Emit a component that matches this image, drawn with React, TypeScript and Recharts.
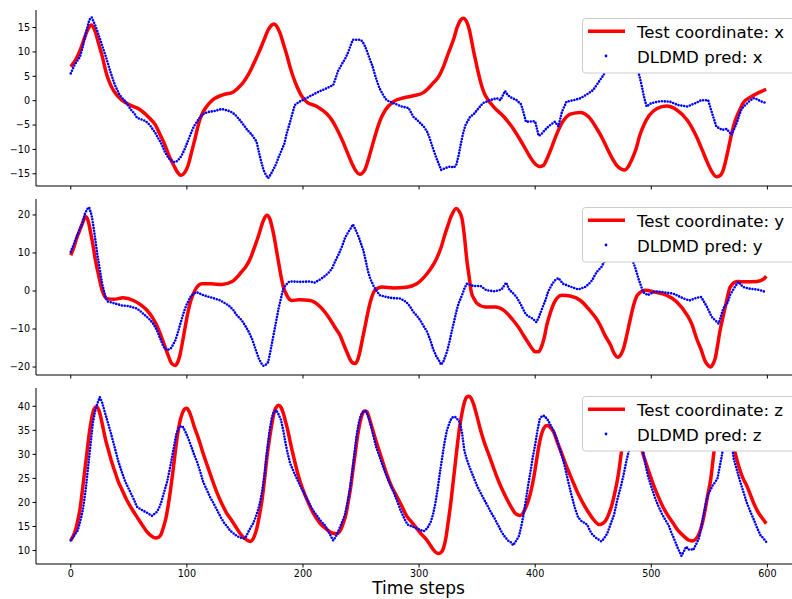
import React from 'react';
import { LineChart, Line, XAxis, YAxis } from 'recharts';

type P = [number, number];

// time-step ticks
const timeTicks = [0, 100, 200, 300, 400, 500, 600];
const xTicks = [-15, -10, -5, 0, 5, 10, 15];
const yTicks = [-20, -10, 0, 10, 20];
const zTicks = [10, 15, 20, 25, 30, 35, 40];

// Panel 1: x coordinate
const xTest: P[] = [[0,7.0],[4,8.3],[8,10.3],[12,13.0],[15,14.8],[18,15.5],[21,14.2],[24,11.7],[27,9.2],[31,5.3],[34,3.4],[37,2.0],[41,0.8],[44,0.1],[51,-0.9],[60,-1.9],[68,-3.6],[73,-5.0],[77,-7.0],[81,-9.0],[85,-11.5],[89,-13.4],[92,-14.7],[95,-15.3],[98,-14.8],[101,-13.3],[104,-10.6],[107,-7.8],[111,-4.0],[114,-2.3],[117,-1.2],[123,0.3],[131,1.2],[140,1.8],[145,2.8],[149,3.9],[153,5.4],[157,7.3],[162,9.9],[166,12.2],[170,14.5],[173,15.5],[175,15.75],[177,15.4],[180,14.0],[183,11.8],[186,9.4],[189,6.8],[192,4.6],[195,2.8],[198,1.3],[203,-0.2],[212,-1.2],[220,-2.6],[225,-4.0],[229,-5.7],[234,-8.2],[238,-10.5],[242,-12.8],[245,-14.2],[249,-15.1],[253,-14.3],[256,-12.3],[259,-9.8],[262,-7.3],[265,-5.0],[268,-3.2],[271,-1.9],[278,-0.2],[287,0.6],[295,1.0],[304,1.7],[312,3.6],[317,5.0],[321,7.0],[325,9.6],[330,12.8],[333,15.2],[336,16.6],[338,16.9],[340,16.6],[343,14.8],[347,10.1],[350,6.8],[353,3.8],[356,1.6],[359,0.3],[364,-1.2],[373,-3.3],[381,-5.7],[386,-7.6],[390,-9.2],[395,-11.3],[399,-12.7],[404,-13.5],[407,-13.3],[410,-12.0],[413,-10.3],[416,-8.4],[419,-6.6],[424,-4.2],[431,-2.7],[439,-2.4],[446,-3.3],[453,-5.7],[458,-7.8],[462,-9.8],[466,-11.7],[470,-13.2],[474,-14.0],[477,-14.2],[480,-13.6],[483,-12.2],[487,-9.8],[490,-7.2],[494,-4.8],[498,-3.1],[505,-1.6],[513,-1.1],[522,-1.9],[531,-4.0],[539,-7.4],[544,-10.2],[548,-12.5],[552,-14.5],[556,-15.6],[559,-15.4],[562,-14.2],[566,-10.3],[569,-7.0],[572,-4.3],[576,-2.0],[579,-0.5],[586,0.8],[593,1.7],[599,2.3]];
const xPred: P[] = [[0,5.6],[3,7.2],[5,8.0],[8,9.0],[10,10.8],[12,12.8],[14,14.8],[16,16.6],[18,17.1],[21,15.5],[23,14.2],[25,12.8],[28,10.6],[30,9.2],[34,6.0],[38,3.2],[42,1.2],[46,0.1],[48,-0.5],[52,-1.9],[55,-2.7],[57,-3.5],[60,-3.8],[63,-4.0],[66,-4.5],[68,-5.0],[71,-6.0],[73,-6.7],[77,-8.4],[79,-9.3],[81,-10.5],[84,-11.7],[86,-12.2],[89,-12.6],[91,-12.5],[94,-11.8],[96,-11.0],[98,-10.0],[100,-8.8],[102,-7.6],[104,-6.4],[106,-5.3],[109,-4.2],[113,-2.9],[116,-2.5],[119,-2.3],[124,-2.1],[130,-1.7],[136,-2.1],[139,-2.4],[142,-3.0],[145,-3.8],[148,-4.7],[152,-6.0],[156,-7.0],[160,-8.4],[162,-10.5],[164,-12.5],[166,-14.2],[168,-15.2],[170,-15.9],[172,-15.2],[175,-13.9],[177,-12.9],[179,-11.6],[181,-10.5],[184,-8.8],[186,-6.7],[189,-4.3],[191,-2.5],[193,-0.9],[197,-0.2],[203,0.5],[209,1.3],[215,2.0],[220,2.5],[226,3.2],[228,4.5],[230,6.0],[234,7.7],[237,8.9],[239,10.0],[241,11.3],[243,12.5],[246,12.5],[249,12.5],[251,12.2],[253,11.4],[255,10.2],[257,8.9],[260,7.0],[262,5.3],[264,3.8],[266,2.5],[269,1.2],[272,0.1],[278,-0.5],[285,-1.2],[291,-1.5],[295,-3.3],[298,-3.9],[301,-4.6],[304,-5.3],[307,-6.4],[309,-7.6],[311,-9.1],[313,-10.5],[315,-11.8],[317,-13.0],[319,-14.2],[321,-14.0],[324,-13.7],[327,-13.5],[330,-13.7],[332,-13.2],[334,-11.3],[336,-8.8],[338,-6.6],[340,-5.0],[344,-3.3],[347,-2.8],[350,-1.9],[355,-0.5],[361,0.1],[367,0.5],[370,0.1],[372,1.0],[374,2.0],[376,1.3],[378,0.8],[384,0.1],[388,-0.8],[390,-2.5],[392,-4.3],[395,-4.3],[398,-4.2],[400,-4.3],[403,-7.2],[405,-7.0],[407,-6.4],[410,-5.6],[413,-5.0],[417,-4.3],[420,-5.3],[423,-2.3],[427,-0.2],[433,0.1],[439,0.5],[444,1.2],[450,2.2],[454,3.6],[459,5.3],[463,7.5],[467,10.0],[471,12.0],[475,13.0],[479,12.5],[483,11.0],[486,8.5],[488,6.5],[490,4.9],[492,2.8],[494,0.5],[496,-1.2],[500,-0.5],[508,-0.1],[516,-0.2],[523,-0.9],[531,-1.2],[538,-0.5],[543,0.1],[549,0.1],[552,-2.3],[556,-5.3],[561,-6.0],[565,-5.8],[569,-7.0],[572,-5.5],[574,-4.3],[576,-2.8],[578,-1.6],[584,-0.2],[588,0.5],[591,0.3],[594,-0.1],[599,-0.5]];

// Panel 2: y coordinate
const yTest: P[] = [[0,9.4],[3,11.8],[5,13.8],[8,16.2],[10,17.8],[12,19.3],[13,19.5],[15,18.4],[17,15.5],[19,12.3],[21,8.5],[24,4.1],[27,0.2],[29,-1.3],[31,-2.0],[37,-2.2],[45,-1.8],[54,-2.5],[60,-3.6],[66,-5.2],[70,-6.8],[74,-9.0],[77,-11.2],[80,-13.7],[83,-16.2],[87,-19.1],[90,-19.6],[92,-18.8],[94,-16.9],[96,-13.8],[98,-10.4],[101,-5.5],[103,-2.9],[107,0.2],[113,1.9],[121,1.9],[130,1.7],[139,2.5],[147,5.0],[151,6.5],[155,8.8],[158,11.3],[162,14.8],[166,18.6],[169,19.9],[171,19.3],[173,17.3],[175,14.5],[177,11.0],[179,7.5],[181,4.0],[183,1.2],[186,-1.1],[190,-2.5],[197,-2.3],[206,-2.5],[215,-4.2],[223,-7.3],[228,-9.8],[232,-11.7],[235,-14.0],[238,-16.2],[242,-18.7],[245,-19.1],[247,-18.2],[249,-16.0],[251,-13.0],[254,-8.5],[256,-5.5],[258,-2.9],[262,0.2],[268,1.05],[278,0.8],[289,1.0],[298,1.9],[307,4.6],[311,6.3],[315,8.5],[319,11.5],[322,14.6],[325,17.4],[328,19.9],[332,21.7],[334,21.2],[337,19.0],[339,14.5],[341,8.5],[343,4.0],[345,-0.3],[348,-2.4],[350,-3.3],[357,-4.2],[366,-4.2],[373,-5.1],[381,-7.7],[386,-9.7],[390,-11.7],[394,-13.6],[397,-15.0],[400,-16.0],[403,-16.0],[405,-15.0],[408,-12.0],[410,-9.0],[413,-5.8],[416,-3.3],[419,-1.8],[423,-1.1],[430,-1.3],[439,-2.5],[447,-5.1],[452,-7.0],[456,-9.0],[460,-11.6],[465,-14.3],[468,-16.4],[471,-17.4],[474,-16.6],[476,-15.2],[479,-11.5],[482,-7.3],[485,-3.5],[488,-1.1],[495,0.2],[503,-0.3],[513,-1.1],[522,-2.9],[531,-6.4],[535,-8.8],[539,-12.5],[543,-15.5],[546,-18.2],[549,-19.6],[551,-20.0],[553,-19.3],[555,-17.8],[557,-14.5],[559,-10.8],[562,-6.5],[564,-3.8],[568,1.05],[574,2.5],[582,2.4],[591,2.5],[597,3.2],[599,3.9]];
const yPred: P[] = [[0,10.3],[3,12.6],[5,14.2],[8,16.5],[10,17.7],[12,20.2],[15,22.0],[16,21.8],[18,19.9],[20,16.0],[21,13.8],[23,9.3],[24,7.6],[26,3.8],[27,2.0],[30,-1.8],[32,-2.8],[35,-3.0],[38,-3.3],[44,-3.8],[50,-4.0],[57,-4.6],[61,-5.6],[64,-6.4],[68,-7.5],[71,-8.6],[74,-10.2],[77,-12.5],[79,-14.0],[81,-15.2],[83,-15.5],[86,-15.2],[88,-14.2],[90,-13.0],[92,-11.2],[94,-9.0],[96,-7.0],[98,-5.0],[100,-3.4],[103,-1.6],[106,-0.6],[109,-0.4],[114,-1.1],[122,-1.8],[129,-2.5],[136,-3.8],[140,-5.0],[143,-6.4],[147,-7.6],[150,-9.0],[153,-10.6],[156,-12.5],[159,-15.2],[162,-17.8],[164,-19.0],[166,-19.7],[168,-19.4],[170,-18.7],[172,-15.8],[175,-11.0],[177,-7.8],[179,-4.6],[181,-2.0],[183,0.6],[185,1.5],[188,2.4],[190,2.5],[198,2.4],[206,2.5],[210,2.2],[214,2.9],[218,3.7],[222,4.8],[225,5.9],[228,8.0],[231,9.8],[234,12.0],[236,13.8],[239,15.5],[241,16.4],[243,17.5],[245,16.3],[248,14.2],[250,12.4],[252,10.7],[254,8.0],[256,5.2],[258,3.2],[261,1.2],[264,-0.2],[266,-1.1],[275,-1.8],[284,-2.0],[289,-2.9],[292,-4.0],[295,-5.5],[298,-6.5],[301,-7.7],[304,-9.3],[307,-10.8],[310,-13.2],[312,-15.2],[315,-17.3],[317,-18.2],[319,-19.4],[321,-18.5],[324,-16.0],[326,-13.6],[328,-10.8],[330,-8.2],[332,-5.5],[334,-3.3],[337,-1.1],[339,0.6],[341,1.9],[347,1.3],[353,1.3],[358,0.2],[365,-0.1],[371,0.4],[375,2.2],[378,0.2],[381,-0.6],[384,-1.6],[388,-3.8],[392,-6.2],[395,-6.8],[398,-7.3],[401,-8.2],[403,-7.0],[406,-4.6],[409,-2.3],[411,-0.3],[414,1.5],[417,2.8],[420,3.4],[424,1.9],[430,1.2],[437,0.4],[443,1.05],[446,1.8],[449,2.8],[453,5.0],[457,6.3],[461,8.5],[466,11.5],[470,13.5],[474,13.0],[478,11.5],[482,9.5],[486,6.3],[489,3.2],[493,-0.3],[497,-1.1],[503,-0.1],[510,-0.3],[519,-0.7],[528,-2.0],[533,-2.5],[539,-1.8],[543,-1.6],[548,-4.2],[552,-6.8],[558,-8.6],[562,-4.6],[566,-2.9],[568,-1.0],[571,0.6],[575,2.4],[579,1.05],[585,0.6],[592,0.35],[599,-0.3]];

// Panel 3: z coordinate
const zTest: P[] = [[0,12.1],[2,13.0],[4,14.2],[6,16.2],[8,18.7],[10,22.5],[12,26.5],[14,30.5],[16,34.5],[18,37.5],[20,39.4],[22,39.9],[24,39.3],[26,37.6],[28,35.3],[30,33.0],[33,30.4],[35,28.6],[38,26.4],[41,24.3],[44,22.7],[48,20.6],[52,18.9],[57,17.0],[61,15.5],[65,14.1],[69,13.1],[73,12.6],[76,12.8],[78,13.5],[80,15.0],[82,16.8],[84,19.5],[86,22.8],[88,26.5],[90,30.5],[92,34.2],[94,36.8],[96,38.5],[98,39.4],[100,39.6],[102,38.9],[104,37.6],[106,36.0],[109,34.0],[112,31.8],[114,30.2],[118,27.4],[122,24.6],[126,22.0],[130,19.8],[134,17.9],[139,16.1],[143,14.6],[146,13.5],[150,12.5],[153,12.0],[155,11.9],[157,12.4],[159,13.6],[161,15.4],[163,18.0],[165,21.0],[167,25.0],[169,29.5],[171,33.0],[173,36.0],[175,38.6],[177,39.8],[179,40.2],[181,39.8],[183,38.6],[185,36.8],[187,34.9],[189,32.6],[192,29.4],[195,26.5],[198,24.0],[202,21.4],[206,19.2],[209,17.7],[213,16.2],[216,15.3],[220,14.5],[223,13.9],[226,13.6],[229,13.5],[231,13.8],[233,14.6],[235,15.9],[237,17.5],[239,20.2],[241,23.0],[243,26.7],[245,30.2],[247,33.8],[249,36.5],[251,38.3],[253,39.0],[255,38.9],[257,37.6],[259,36.0],[262,33.5],[265,31.2],[269,28.2],[272,26.0],[276,23.5],[281,21.2],[285,19.3],[289,17.3],[294,15.8],[298,14.6],[302,13.4],[307,12.1],[311,10.6],[314,9.7],[317,9.4],[319,9.6],[321,10.5],[323,12.5],[325,15.8],[327,19.3],[329,23.5],[331,27.7],[333,32.0],[335,35.8],[337,38.6],[339,40.8],[341,41.9],[343,42.1],[345,41.6],[347,40.4],[350,37.8],[353,35.0],[356,32.6],[360,30.0],[364,27.3],[367,25.3],[371,23.0],[375,21.0],[379,19.2],[383,17.7],[385,17.4],[387,17.3],[389,17.6],[391,18.5],[393,19.6],[396,22.0],[399,25.5],[401,28.5],[403,31.5],[405,33.8],[407,35.2],[409,35.9],[411,36.0],[413,35.6],[416,34.6],[419,32.6],[423,30.1],[427,27.5],[432,24.6],[437,21.8],[442,19.5],[446,17.9],[450,16.5],[453,15.7],[455,15.4],[457,15.5],[460,16.0],[462,16.8],[464,18.0],[466,19.4],[469,22.5],[472,26.4],[474,30.0],[477,35.0],[480,39.5],[482,40.5],[484,40.0],[487,37.0],[490,33.5],[493,30.0],[495,28.5],[498,26.3],[502,23.6],[506,21.2],[510,19.1],[514,17.4],[519,15.6],[523,14.2],[528,13.0],[532,12.2],[535,12.0],[538,12.3],[541,13.4],[544,15.7],[546,18.0],[549,22.0],[551,24.5],[554,30.5],[557,35.0],[560,38.5],[563,39.5],[566,38.0],[569,34.0],[572,30.5],[576,27.0],[579,25.0],[582,23.6],[586,21.2],[589,19.4],[593,17.6],[596,16.6],[599,15.6]];
const zPred: P[] = [[0,12.1],[2,12.8],[4,13.5],[6,14.2],[8,15.9],[10,18.0],[11,19.4],[13,23.0],[15,27.5],[17,32.0],[19,36.5],[21,39.0],[23,40.6],[25,41.9],[27,40.8],[28,39.9],[30,38.2],[32,36.6],[35,34.0],[38,31.3],[41,28.5],[44,26.3],[47,24.3],[50,22.8],[54,20.8],[57,19.1],[60,18.6],[63,18.2],[66,17.8],[70,17.2],[74,18.0],[76,18.8],[78,20.1],[80,21.8],[83,24.3],[85,26.6],[87,29.1],[89,31.8],[91,34.3],[93,35.4],[95,35.9],[97,35.6],[100,34.0],[102,32.8],[104,31.5],[106,30.1],[109,28.3],[112,26.0],[114,24.3],[117,22.7],[120,21.1],[123,19.8],[126,18.4],[129,17.0],[132,15.8],[135,14.9],[137,14.2],[140,13.6],[143,13.0],[146,12.7],[149,12.5],[151,12.9],[153,13.9],[155,14.8],[157,15.6],[159,16.8],[161,18.2],[163,20.0],[165,22.5],[167,26.0],[169,30.5],[171,34.5],[173,37.4],[175,38.8],[177,39.2],[179,38.3],[181,37.2],[183,35.0],[185,32.3],[187,30.0],[189,28.1],[192,26.4],[195,24.8],[198,23.3],[201,21.9],[204,20.4],[207,19.0],[210,17.9],[213,16.9],[216,16.0],[219,15.2],[222,13.9],[224,13.0],[226,12.1],[228,12.8],[230,13.8],[233,15.5],[236,17.3],[238,19.5],[240,22.0],[242,25.5],[244,29.5],[246,33.5],[248,36.5],[250,38.2],[252,38.9],[254,39.0],[256,38.0],[258,36.5],[260,34.5],[263,31.5],[266,29.5],[269,27.4],[272,25.5],[275,23.8],[278,22.2],[281,20.3],[284,18.4],[287,16.8],[290,15.4],[294,15.0],[298,14.6],[301,14.3],[304,14.0],[307,14.6],[310,15.9],[312,17.5],[314,19.8],[316,22.8],[318,26.3],[320,29.5],[322,32.6],[324,35.0],[327,37.1],[329,37.7],[331,37.8],[333,37.3],[335,36.7],[337,34.5],[339,30.8],[341,29.0],[344,27.0],[347,25.2],[350,23.4],[353,22.0],[356,20.6],[359,19.3],[362,17.9],[365,16.7],[368,15.3],[371,13.9],[374,12.8],[377,12.0],[379,11.7],[381,11.1],[383,11.8],[386,13.0],[388,15.0],[390,17.5],[392,20.5],[394,23.6],[396,26.5],[398,29.5],[400,32.0],[402,35.0],[404,37.4],[406,38.0],[408,38.0],[411,37.1],[413,36.2],[416,34.8],[419,32.8],[422,30.5],[425,28.0],[428,24.8],[431,21.8],[434,19.0],[437,16.9],[440,16.1],[443,15.7],[445,15.3],[447,14.2],[449,13.4],[452,12.7],[455,12.2],[457,11.9],[459,12.4],[462,13.5],[465,15.5],[468,17.5],[471,20.8],[474,23.5],[476,25.6],[479,29.1],[481,31.0],[484,34.5],[487,37.0],[489,37.5],[491,35.5],[493,30.5],[495,27.9],[497,25.6],[500,23.3],[503,21.1],[506,19.3],[509,17.7],[512,16.4],[515,15.2],[517,13.9],[519,12.8],[521,11.6],[523,10.4],[525,9.4],[526,8.9],[528,9.8],[530,10.8],[532,10.2],[534,10.3],[536,10.1],[538,11.0],[541,12.5],[543,14.8],[545,17.3],[547,19.8],[549,21.8],[551,22.6],[553,23.6],[555,24.2],[557,25.0],[559,27.5],[561,30.0],[563,33.5],[565,36.0],[567,36.5],[569,33.0],[571,29.1],[574,26.5],[577,24.0],[580,21.7],[582,20.1],[585,18.3],[588,16.6],[591,14.8],[594,13.2],[597,12.4],[599,11.8]];

const FONT = 'DejaVu Sans, sans-serif';
const X_DOMAIN: [number, number] = [-29.95, 628.95];
const PLOT_H = 176;
const MT = 5;
const fmt = (v: number) => String(v).replace('-', '\u2212');
const toRows = (a: P[]) => a.map(([t, v]) => ({ t, v }));

interface PanelProps {
  top: number;
  test: P[];
  pred: P[];
  domain: [number, number];
  ticks: number[];
  showX: boolean;
  name: string;
}

function LegendBox({ name }: { name: string }) {
  // coordinates relative to the panel's plot top (+ MT offset of the wrapper)
  const o = MT;
  return (
    <svg
      width={220}
      height={60}
      style={{ position: 'absolute', left: 580, top: o + 6, zIndex: 50, pointerEvents: 'none', overflow: 'visible' }}
    >
      <rect x={2.5} y={2.5} width={240} height={54.5} rx={3} fill="#ffffff" stroke="#cccccc" strokeWidth={1} />
      <line x1={8} x2={45} y1={15.3} y2={15.3} stroke="#ff0000" strokeWidth={3.5} />
      <circle cx={26} cy={40} r={1.4} fill="#0000ff" />
      <text x={57} y={22} fontFamily={FONT} fontSize={16.6} fill="#000">{`Test coordinate: ${name}`}</text>
      <text x={57} y={46.5} fontFamily={FONT} fontSize={16.6} fill="#000">{`DLDMD pred: ${name}`}</text>
    </svg>
  );
}

function Panel({ top, test, pred, domain, ticks, showX, name }: PanelProps) {
  const xh = showX ? 30 : 8;
  const h = PLOT_H + MT + xh;
  return (
    <div style={{ position: 'absolute', left: 0, top: top - MT, width: 810, height: h }}>
      <div style={{ position: 'absolute', left: 0, top: 0, zIndex: 1 }}>
        <LineChart width={810} height={h} margin={{ top: MT, right: 9, bottom: 0, left: 0 }}>
          <XAxis
            xAxisId="b"
            type="number"
            dataKey="t"
            domain={X_DOMAIN}
            ticks={timeTicks}
            interval={0}
            allowDataOverflow
            height={xh}
            tickSize={3.5}
            tickMargin={2.5}
            axisLine={{ stroke: '#000', strokeWidth: 1 }}
            tickLine={{ stroke: '#000', strokeWidth: 1 }}
            tick={{ fill: '#000', fontSize: 9.6, fontFamily: FONT }}
            tickFormatter={showX ? (v: number) => fmt(v) : () => ''}
          />
          <XAxis
            xAxisId="top"
            orientation="top"
            type="number"
            dataKey="t"
            domain={X_DOMAIN}
            allowDataOverflow
            height={0}
            tick={false}
            tickLine={false}
            axisLine={{ stroke: '#000', strokeWidth: 1 }}
          />
          <YAxis
            yAxisId="l"
            type="number"
            domain={domain}
            ticks={ticks}
            interval={0}
            allowDataOverflow
            width={36}
            tickSize={3.5}
            tickMargin={2.5}
            axisLine={{ stroke: '#000', strokeWidth: 1 }}
            tickLine={{ stroke: '#000', strokeWidth: 1 }}
            tick={{ fill: '#000', fontSize: 9.6, fontFamily: FONT }}
            tickFormatter={(v: number) => fmt(v)}
          />
          <YAxis
            yAxisId="r"
            orientation="right"
            type="number"
            domain={domain}
            allowDataOverflow
            width={0}
            tick={false}
            tickLine={false}
            axisLine={{ stroke: '#000', strokeWidth: 1 }}
          />
          <Line
            xAxisId="b"
            yAxisId="l"
            data={toRows(test)}
            dataKey="v"
            type="monotone"
            stroke="#ff0000"
            strokeWidth={3.5}
            dot={false}
            activeDot={false}
            isAnimationActive={false}
          />
          <Line
            xAxisId="b"
            yAxisId="l"
            data={toRows(pred)}
            dataKey="v"
            type="linear"
            stroke="#0000ff"
            strokeWidth={2.6}
            strokeDasharray="0 2.9"
            strokeLinecap="round"
            dot={false}
            activeDot={false}
            isAnimationActive={false}
          />
        </LineChart>
      </div>
      <LegendBox name={name} />
    </div>
  );
}

const panels = [
  { top: 10, test: xTest, pred: xPred, domain: [-17.5, 18.6] as [number, number], ticks: xTicks, name: 'x' },
  { top: 199, test: yTest, pred: yPred, domain: [-22.1, 24.2] as [number, number], ticks: yTicks, name: 'y' },
  { top: 388, test: zTest, pred: zPred, domain: [7.2, 43.8] as [number, number], ticks: zTicks, name: 'z' },
];

export default function App() {
  return (
    <div style={{ position: 'absolute', left: 0, top: 0, width: 792, height: 599, overflow: 'hidden', background: '#fff' }}>
      {panels.map((p, i) => (
        <Panel key={p.name} top={p.top} test={p.test} pred={p.pred} domain={p.domain} ticks={p.ticks} showX={i === 2} name={p.name} />
      ))}
      <svg width={792} height={30} style={{ position: 'absolute', left: 0, top: 570, pointerEvents: 'none' }}>
        <text x={418.5} y={23.7} textAnchor="middle" fontFamily={FONT} fontSize={17} fill="#000">Time steps</text>
      </svg>
    </div>
  );
}
